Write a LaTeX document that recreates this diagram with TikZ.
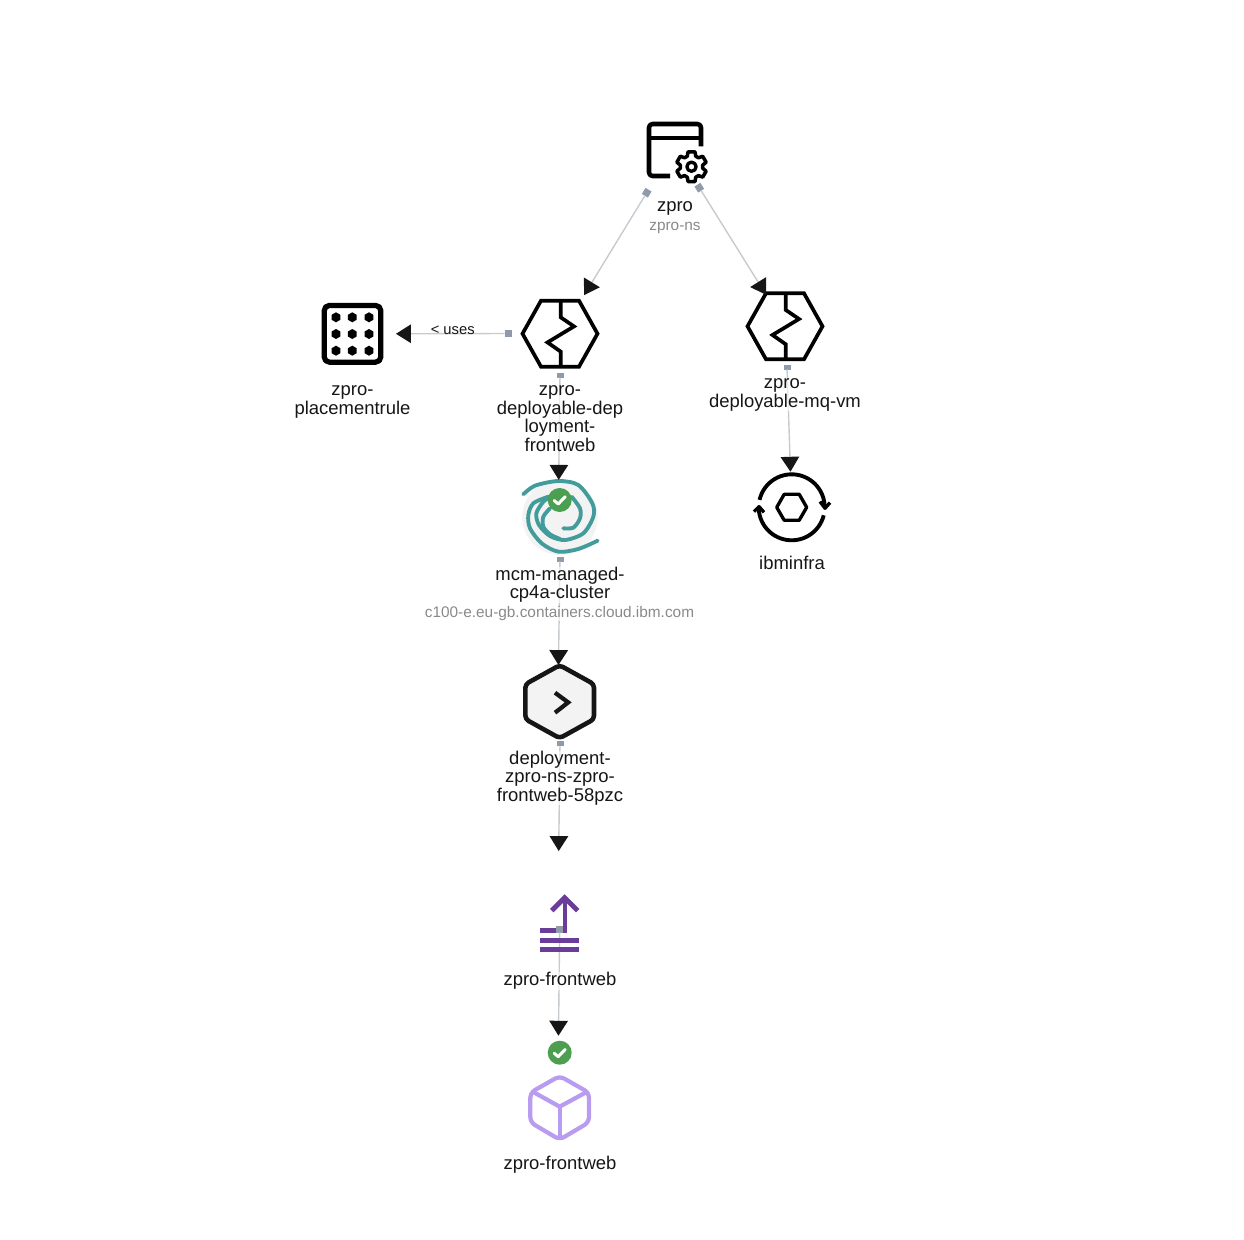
\documentclass[tikz,border=0pt]{standalone}
\usepackage{fontspec}
\setmainfont{Liberation Sans}
\usepackage{xcolor}
\usetikzlibrary{arrows.meta}
\definecolor{inkdark}{HTML}{161616}
\definecolor{inkgrey}{HTML}{8A8A8A}
\definecolor{linegrey}{HTML}{C6CBD0}
\definecolor{portgrey}{HTML}{8F9BA8}
\definecolor{okgreen}{HTML}{4C9F50}
\definecolor{swirlteal}{HTML}{429C9C}
\definecolor{iconbg}{HTML}{F3F3F3}
\definecolor{svcpurple}{HTML}{6A3D9A}
\definecolor{podlilac}{HTML}{B79CF0}
\newcommand{\splithex}[2]{%
  \draw[draw=black,line width=2.1pt,shift={(#1,#2)}] (-37.5,0) -- (-19,-33) -- (19,-33) -- (37.5,0) -- (19,33) -- (-19,33) -- cycle;
  \draw[draw=black,line width=2.1pt,shift={(#1,#2)}] (0.8,-33) -- (0.8,-16.3) -- (14,-7.3) -- (-12.5,8.7) -- (0.8,18) -- (0.8,33);
}
\newcommand{\okbadge}[2]{%
  \fill[okgreen] (#1,#2) circle[radius=12];
  \draw[white,line width=1.7pt,line cap=round,line join=round,shift={(#1,#2)}] (-5.5,0.5) -- (-1.5,4) -- (5.5,-3.3);
}
\begin{document}
\begin{tikzpicture}[x=0.02cm,y=-0.02cm,
  icon/.style={circle,inner sep=0pt,outer sep=0pt},
  iconline/.style={draw=black,line join=round},
  port/.style={fill=portgrey,inner sep=0pt,outer sep=0pt,minimum width=7pt*0.569,minimum height=7pt*0.569},
  flatport/.style={port,minimum height=5pt*0.569},
  link/.style={draw=linegrey,line width=0.8pt,-{Triangle[length=8.5pt,width=10.5pt,color=inkdark]}},
  swirl/.style={draw=swirlteal,line width=2.2pt,line cap=round},
  lbl/.style={align=center,inner sep=0pt,fill=white,fill opacity=0.6,text opacity=1,text=inkdark,font=\fontsize{10.5}{10.5}\selectfont},
  sublbl/.style={lbl,text=inkgrey,font=\fontsize{8.75}{10}\selectfont}]
  \useasboundingbox (0,0) rectangle (1244,1240);

  \node[icon,minimum size=1.5cm]  (zpro)     at (675,160) {};
  \node[icon,minimum size=1.82cm] (depfront) at (560,333.7) {};
  \node[icon,minimum size=1.472cm] (depmq)   at (785,326.3) {};
  \node[icon,minimum size=1.74cm] (rule)     at (352.5,333.8) {};
  \node[icon,minimum size=1.5cm]  (cluster)  at (560,517.3) {};
  \node[icon,minimum size=1.424cm] (infra)   at (791.7,507.3) {};
  \node[icon,minimum size=1.468cm] (deploy)  at (559.7,701.7) {};
  \node[icon,minimum size=2.96cm] (svc)      at (560,925) {};
  \node[icon,minimum size=2.88cm] (pod)      at (559.7,1107.7) {};

  \draw[iconline,line width=2.6pt,rounded corners=2pt] (701,146.5) -- (701,124) -- (649,124) -- (649,176) -- (670,176);
  \draw[iconline,line width=2.4pt] (649,137.7) -- (701,137.7);
  \draw[iconline,line width=2pt,shift={(691.5,166.7)}] (17:15.3)
    \foreach \a in {30,90,150,210,270,330} {-- (\a-13:15.3) -- (\a+13:15.3) -- (\a+22:11.3) -- (\a+38:11.3)} -- cycle;
  \draw[iconline,line width=1.9pt] (691.5,166.7) circle[radius=4.6];

  \splithex{560}{333.7}
  \splithex{785}{326.3}

  \draw[iconline,line width=3pt,rounded corners=3pt] (324.2,305.4) rectangle (380.8,362.2);
  \foreach \px in {336,352.3,369} \foreach \py in {317.3,334,350.7}
    \fill[black,shift={(\px,\py)}] (30:5) \foreach \a in {90,150,210,270,330} {-- (\a:5)} -- cycle;

  \fill[iconbg] (560,517.3) circle[radius=37.7];
  \begin{scope}[shift={(515,475)},scale=0.3333]
    \draw[swirl] plot[smooth] coordinates {(25,58) (60,32) (130,18) (190,30) (232,85) (235,125) (205,175) (150,195) (105,183) (72,150) (64,115) (85,80) (105,68)};
    \draw[swirl] plot[smooth] coordinates {(248,197) (190,222) (130,230) (80,205) (45,160) (40,120) (55,85) (100,65)};
    \draw[swirl] plot[smooth] coordinates {(145,160) (175,158) (195,130) (195,100) (170,65)};
    \draw[swirl] plot[smooth] coordinates {(105,100) (85,125) (85,155) (105,178) (135,192)};
  \end{scope}

  \draw[iconline,line width=2.2pt,shift={(791.7,507.3)}] plot[smooth,domain=193:359,samples=30] (\x:33);
  \draw[iconline,line width=2.2pt,shift={(791.7,507.3)}] plot[smooth,domain=14:178,samples=30] (\x:33);
  \draw[iconline,line width=1.9pt,shift={(791.7,507.3)}] (28.3,-5.7) -- (33.3,1) -- (38.3,-4.7);
  \draw[iconline,line width=1.9pt,shift={(791.7,507.3)}] (-37.7,4.3) -- (-32.7,-0.7) -- (-27.7,5);
  \draw[iconline,line width=1.9pt,shift={(791.7,507.3)}] (-15,0) -- (-7.5,-13) -- (7.5,-13) -- (15,0) -- (7.5,13) -- (-7.5,13) -- cycle;

  \draw[draw=inkdark,fill=iconbg,line width=2.6pt,line join=round,rounded corners=2pt,shift={(559.7,701.7)}] (0,-36.5) -- (34.3,-17.5) -- (34.3,17.5) -- (0,36.5) -- (-34.3,17.5) -- (-34.3,-17.5) -- cycle;
  \draw[draw=inkdark,line width=2.4pt,shift={(559.7,701.7)}] (-4.7,-9) -- (8.5,0.7) -- (-4.7,11);

  \begin{scope}[shift={(500,830)},scale=0.3333]
    \draw[svcpurple,line width=2.8pt] (121,302) -- (195,302) -- (195,205);
    \draw[svcpurple,line width=2.8pt] (155,242) -- (194,203) -- (233,242);
  \end{scope}

  \begin{scope}[shift={(500,1010)},scale=0.3333]
    \draw[podlilac,line width=2.4pt,line join=round,rounded corners=3pt] (179,198) -- (267,248) -- (267,337) -- (179,389) -- (91,337) -- (91,248) -- cycle;
    \draw[podlilac,line width=2.4pt,line join=round] (98,245) -- (179,290) -- (262,245);
    \draw[podlilac,line width=2.4pt] (179,290) -- (179,387);
  \end{scope}

  \node[port,rotate=59]  (zproL)  at (646.7,192.7) {};
  \node[port,rotate=-58] (zproR)  at (699.3,187.7) {};
  \node[port]     (depfrontL) at (508,333.5) {};
  \node[flatport] (depfrontS) at (560,375) {};
  \node[flatport] (depmqS)    at (787,367) {};
  \node[flatport] (clusterS)  at (560,559) {};
  \node[flatport] (deployS)   at (560,743.5) {};
  \node[port]     (svcS)      at (559.7,929) {};

  \draw[link] (zproL) -- (depfront.58.2);
  \draw[link] (zproR) -- (depmq.121.7);
  \draw[link] (depfrontL) -- node[midway,xshift=1.4pt,yshift=1.8pt,inner sep=0pt,text=inkdark,font=\fontsize{8.4}{10}\selectfont] (uses) {< uses} (rule.0);
  \draw[link] (depfrontS) -- (cluster.92.6);
  \draw[link] (depmqS) -- (infra.92.7);
  \draw[link] (clusterS) -- (deploy.92.2);
  \draw[link] (deployS) -- (svc.91.3);
  \draw[link] (svcS) -- (pod.91.1);

  \begin{scope}[shift={(500,830)},scale=0.3333]
    \fill[svcpurple] (121,323) rectangle (237,338);
    \fill[svcpurple] (121,352) rectangle (237,367);
  \end{scope}

  \okbadge{559.7}{500}
  \okbadge{559.7}{1052.7}

  \node[lbl]    (zprolbl)     at (675,208)   {zpro};
  \node[sublbl] (zprons)      at (675,228)   {zpro-ns};
  \node[lbl]    (rulelbl)     at (352.5,402) {zpro-\\placementrule};
  \node[lbl]    (depfrontlbl) at (560,418.5) {zpro-\\deployable-dep\\loyment-\\frontweb};
  \node[lbl]    (depmqlbl)    at (785,395)   {zpro-\\deployable-mq-vm};
  \node[lbl]    (clusterlbl)  at (560,585)   {mcm-managed-\\cp4a-cluster};
  \node[sublbl] (clusterhost) at (559.5,614) {c100-e.eu-gb.containers.cloud.ibm.com};
  \node[lbl]    (infralbl)    at (792,563)   {ibminfra};
  \node[lbl]    (deploylbl)   at (560,778.2) {deployment-\\zpro-ns-zpro-\\frontweb-58pzc};
  \node[lbl]    (svclbl)      at (560,981)   {zpro-frontweb};
  \node[lbl]    (podlbl)      at (560,1165)  {zpro-frontweb};
\end{tikzpicture}
\end{document}
